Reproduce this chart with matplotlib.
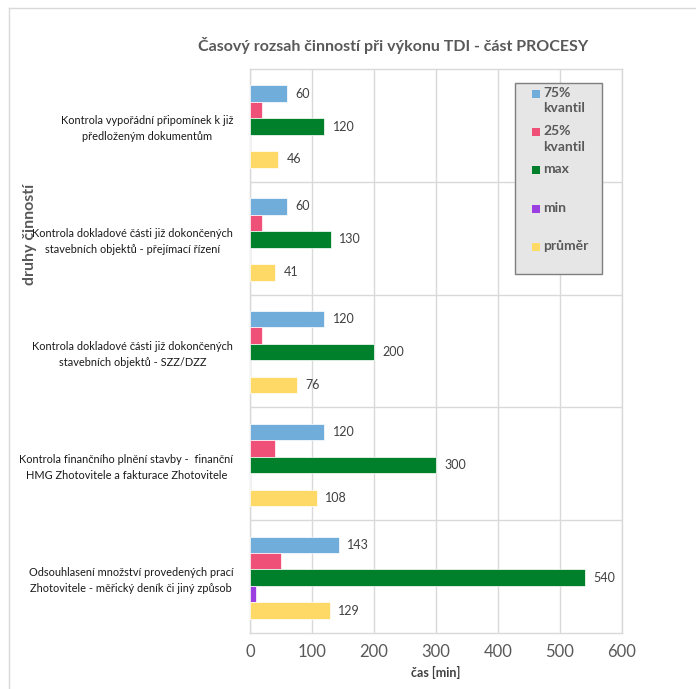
import numpy as np
import matplotlib
matplotlib.use("Agg")
import matplotlib.pyplot as plt
from matplotlib.patches import Rectangle
from matplotlib.lines import Line2D

plt.rcParams['font.family'] = ['Lato', 'DejaVu Sans']

categories = [
    "Kontrola vypořádní připomínek k již\npředloženým dokumentům",
    "Kontrola dokladové části již dokončených\nstavebních objektů - přejímací řízení",
    "Kontrola dokladové části již dokončených\nstavebních objektů - SZZ/DZZ",
    "Kontrola finančního plnění stavby -  finanční\nHMG Zhotovitele a fakturace Zhotovitele",
    "Odsouhlasení množství provedených prací\nZhotovitele - měřický deník či jiný způsob",
]
q75 = [60, 60, 120, 120, 143]
q25 = [20, 20, 20, 40, 50]
vmax = [120, 130, 200, 300, 540]
vmin = [0, 0, 0, 0, 10]
mean = [46, 41, 76, 108, 129]

series = [
    ("75%\nkvantil", q75, "#71ADDB", True),
    ("25%\nkvantil", q25, "#EF5077", False),
    ("max", vmax, "#00802A", True),
    ("min", vmin, "#9B3FE0", False),
    ("průměr", mean, "#FFD966", True),
]

W, H = 696, 689
fig = plt.figure(figsize=(W / 100, H / 100), dpi=100)
ax = fig.add_axes([250 / W, 1 - 633 / H, (621.7 - 250) / W, (633 - 69) / H])

y = np.arange(len(categories))
bh = 0.146
grid_c = "#d9d9d9"

for i, (name, vals, col, labelled) in enumerate(series):
    pos = y + (i - 2) * bh + 0.01
    bars = ax.barh(pos, vals, height=bh, color=col, edgecolor="white",
                   linewidth=0.5, zorder=3)
    if labelled:
        ax.bar_label(bars, labels=[str(v) for v in vals], padding=6,
                     fontsize=9, color="#404040")

ax.set_xlim(0, 600)
ax.set_xticks(np.arange(0, 601, 100))
ax.set_ylim(len(categories) - 0.5, -0.5)
ax.set_yticks(y)
ax.set_yticklabels(categories, fontsize=7.9, color="#1a1a1a",
                   multialignment="center", linespacing=1.55)
ax.set_yticks(np.arange(0.5, len(categories) - 0.5, 1), minor=True)
ax.tick_params(axis="both", which="both", length=0)
ax.tick_params(axis="x", labelsize=12, labelcolor="#595959", pad=8)
ax.tick_params(axis="y", pad=12)
ax.grid(axis="x", color=grid_c, linewidth=1, zorder=0)
ax.grid(axis="y", which="minor", color=grid_c, linewidth=1, zorder=0)
for s in ax.spines.values():
    s.set_color(grid_c)
    s.set_linewidth(1)

ax.set_xlabel("čas [min]", fontsize=9, fontweight="bold", color="#404040", labelpad=4)

fig.text(393 / W, 1 - 45 / H, "Časový rozsah činností při výkonu TDI - část PROCESY",
         ha="center", va="center", fontsize=11.5, fontweight="bold", color="#595959")
fig.text(30 / W, 1 - 234 / H, "druhy činností", rotation=90, ha="center", va="center",
         fontsize=11.5, fontweight="bold", color="#595959")

# legend box drawn by hand so the entries keep the wide spacing
fig.add_artist(Rectangle((515 / W, 1 - 274 / H), 87 / W, 191 / H,
                         transform=fig.transFigure, facecolor="#e6e6e6",
                         edgecolor="#7f7f7f", linewidth=1, zorder=5))
for k, (name, vals, col, labelled) in enumerate(series):
    ytop = 87 + k * 38.2
    fig.add_artist(Rectangle((532 / W, 1 - (ytop + 11) / H), 8 / W, 8 / H,
                             transform=fig.transFigure, facecolor=col,
                             edgecolor="none", zorder=6))
    fig.text(543 / W, 1 - ytop / H, name, ha="left", va="top", fontsize=10,
             fontweight="bold", color="#595959", linespacing=1.35, zorder=6)

# outer chart frame
fig.add_artist(Line2D([9 / W, 1], [1 - 8 / H, 1 - 8 / H], transform=fig.transFigure,
                      color=grid_c, linewidth=1))
fig.add_artist(Line2D([9 / W, 9 / W], [0, 1 - 8 / H], transform=fig.transFigure,
                      color=grid_c, linewidth=1))

fig.savefig("out.png", dpi=100)
